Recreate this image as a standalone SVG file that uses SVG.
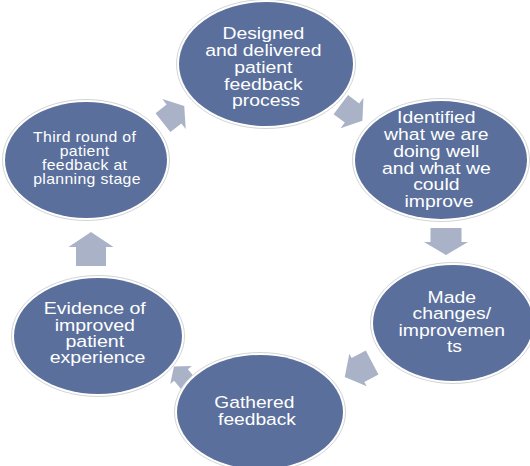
<svg xmlns="http://www.w3.org/2000/svg" width="530" height="466" viewBox="0 0 530 466">
  <style>
    .ring { fill: #ffffff; stroke: #d4d4d4; stroke-width: 1; }
    .node { fill: #5a6f9c; }
    .arrow { fill: #aab2c7; }
    .t { font-family: "Liberation Sans", Arial, sans-serif; font-size: 17px; fill: #ffffff; text-anchor: middle; }
    .s { font-size: 14px; letter-spacing: 0.3px; }
  </style>
  <rect width="530" height="466" fill="#ffffff"/>

  <!-- block arrows between the steps of the cycle -->
  <g id="connectors">
    <polygon class="arrow" transform="translate(174 114) rotate(-38)" points="-14,-12 0,-12 0,-19 13,0 0,19 0,12 -14,12"/>
    <polygon class="arrow" transform="translate(352 113) rotate(37)" points="-14,-12 0,-12 0,-19 13,0 0,19 0,12 -14,12"/>
    <polygon class="arrow" transform="translate(446 242) rotate(90)" points="-14,-15.5 0,-15.5 0,-22 13,0 0,22 0,15.5 -14,15.5"/>
    <polygon class="arrow" transform="translate(358 370) rotate(152)" points="-16,-13.5 0,-13.5 0,-18.5 15,0 0,18.5 0,13.5 -16,13.5"/>
    <polygon class="arrow" transform="translate(181 375) rotate(-130)" points="-11,-9 0,-9 0,-14 11,0 0,14 0,9 -11,9"/>
    <polygon class="arrow" transform="translate(91 247) rotate(-90)" points="-19,-15 0,-15 0,-22.5 15,0 0,22.5 0,15 -19,15"/>
  </g>

  <g id="node-designed">
    <ellipse class="ring" cx="266" cy="64" rx="89.5" ry="64.5"/>
    <ellipse class="node" cx="266" cy="64" rx="87" ry="62"/>
    <text class="t" transform="translate(266 0) scale(1.14 1)">
      <tspan x="0" y="39.3">Designed</tspan>
      <tspan x="0" y="56.1">and delivered</tspan>
      <tspan x="0" y="72.9">patient</tspan>
      <tspan x="0" y="89.7">feedback</tspan>
      <tspan x="0" y="106.5">process</tspan>
    </text>
  </g>

  <g id="node-identified">
    <ellipse class="ring" cx="441" cy="160" rx="88.5" ry="61.5"/>
    <ellipse class="node" cx="441" cy="160" rx="86" ry="59"/>
    <text class="t" transform="translate(439 0) scale(1.14 1)">
      <tspan x="0" y="123">Identified</tspan>
      <tspan x="0" y="140">what we are</tspan>
      <tspan x="0" y="157">doing well</tspan>
      <tspan x="0" y="174">and what we</tspan>
      <tspan x="0" y="190.5">could</tspan>
      <tspan x="0" y="207">improve</tspan>
    </text>
  </g>

  <g id="node-made-changes">
    <ellipse class="ring" cx="453" cy="323" rx="82.5" ry="60.5"/>
    <ellipse class="node" cx="453" cy="323" rx="80" ry="58"/>
    <text class="t" transform="translate(454.5 0) scale(1.14 1)">
      <tspan x="0" y="303.3">Made</tspan>
      <tspan x="0" y="319.5">changes/</tspan>
      <tspan x="0" y="335.8">improvemen</tspan>
      <tspan x="0" y="352">ts</tspan>
    </text>
  </g>

  <g id="node-gathered">
    <ellipse class="ring" cx="260" cy="412" rx="85.5" ry="59.5"/>
    <ellipse class="node" cx="260" cy="412" rx="83" ry="57"/>
    <text class="t" transform="translate(257 0) scale(1.13 1)">
      <tspan x="0" y="408.3">Gathered</tspan>
      <tspan x="0" y="425">feedback</tspan>
    </text>
  </g>

  <g id="node-evidence">
    <ellipse class="ring" cx="98" cy="336" rx="86.5" ry="60.5"/>
    <ellipse class="node" cx="98" cy="336" rx="84" ry="58"/>
    <text class="t" transform="translate(97.5 0) scale(1.15 1)">
      <tspan x="0" y="314.5">Evidence of</tspan>
      <tspan x="0" y="330.8">improved</tspan>
      <tspan x="0" y="347">patient</tspan>
      <tspan x="0" y="363.3">experience</tspan>
    </text>
  </g>

  <g id="node-third-round">
    <ellipse class="ring" cx="86" cy="160" rx="83.5" ry="60.5"/>
    <ellipse class="node" cx="86" cy="160" rx="81" ry="58"/>
    <text class="t s" transform="translate(87 0) scale(1.13 1)">
      <tspan x="0" y="141.7">Third round of</tspan>
      <tspan x="0" y="156">patient</tspan>
      <tspan x="0" y="170">feedback at</tspan>
      <tspan x="0" y="184.2">planning stage</tspan>
    </text>
  </g>
</svg>
